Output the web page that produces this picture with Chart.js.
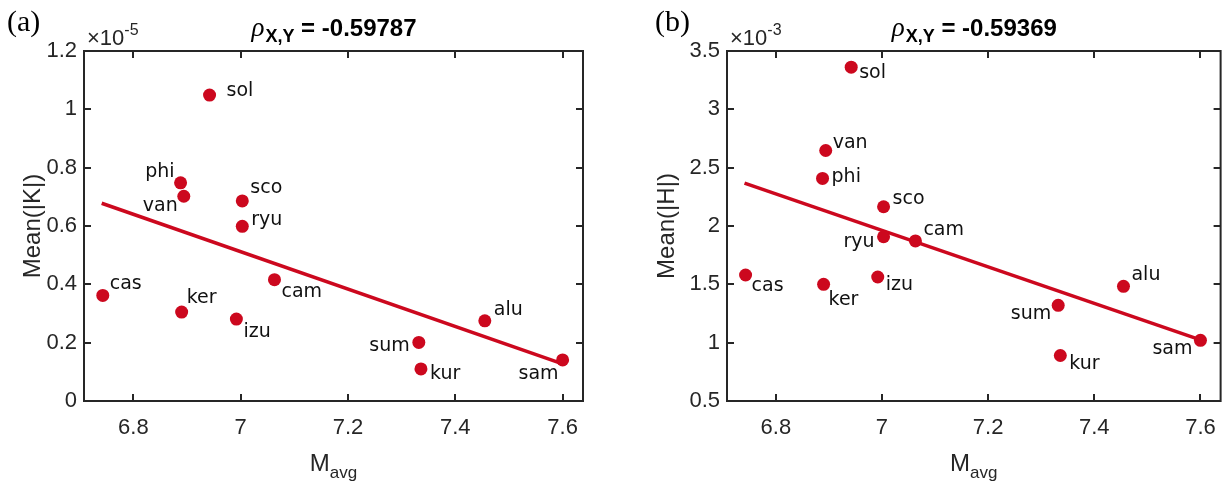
<!DOCTYPE html>
<html>
<head>
<meta charset="utf-8">
<script src="https://cdn.jsdelivr.net/npm/chart.js@4.4.0/dist/chart.umd.min.js"></script>
<style>
  html, body { margin: 0; padding: 0; background: #fff; }
  #wrap { position: relative; width: 1230px; height: 484px; }
  .panel { position: absolute; top: 0; width: 615px; height: 484px; }
</style>
</head>
<body>
<div id="wrap">
  <div class="panel" style="left:0"><canvas id="chartK" width="615" height="484"></canvas></div>
  <div class="panel" style="left:615px"><canvas id="chartH" width="615" height="484"></canvas></div>
</div>
<script>
// station codes, same order in every array below
var stations = ["sol", "phi", "van", "sco", "ryu", "cas", "ker", "izu", "cam", "alu", "sum", "kur", "sam"];
var mAvg = [6.942, 6.888, 6.894, 7.003, 7.003, 6.743, 6.890, 6.992, 7.063, 7.455, 7.332, 7.336, 7.600];
// Mean(|K|), in units of 1e-5
var meanK = [1.049, 0.748, 0.702, 0.686, 0.599, 0.362, 0.305, 0.281, 0.416, 0.275, 0.201, 0.110, 0.141];
// Mean(|H|), in units of 1e-3
var meanH = [3.361, 2.408, 2.647, 2.165, 1.908, 1.580, 1.500, 1.563, 1.872, 1.483, 1.320, 0.890, 1.020];

// least squares lines, end points
var fitX = [6.741, 7.600];
var fitK = [0.678, 0.127];
var fitH = [2.368, 1.024];

var xTicks = [6.8, 7, 7.2, 7.4, 7.6];
var yTicksK = [0, 0.2, 0.4, 0.6, 0.8, 1, 1.2];
var yTicksH = [0.5, 1, 1.5, 2, 2.5, 3, 3.5];

var rhoK = "-0.59787";
var rhoH = "-0.59369";

// where each name sits next to its dot: [dx, dy, align]
var namePosK = [[17, -4, "left"], [-6, -11, "right"], [-6, 10, "right"], [8, -13, "left"], [9, -6, "left"],
  [7, -11, "left"], [5, -14, "left"], [7, 13, "left"], [7, 12, "left"], [9, -11, "left"],
  [-9, 4, "right"], [9, 5, "left"], [-4, 14, "right"]];
var namePosH = [[8, 6, "left"], [9, -1, "left"], [7, -7, "left"], [9, -8, "left"], [-9, 5, "right"],
  [6, 11, "left"], [5, 16, "left"], [8, 8, "left"], [8, -11, "left"], [8, -11, "left"],
  [-7, 9, "right"], [9, 9, "left"], [-8, 9, "right"]];

var red = "rgb(204, 8, 30)";
var axisColor = "#262626";
var sans = "'Liberation Sans', Arial, sans-serif";

Chart.defaults.font.family = sans;
Chart.defaults.animation = false;

function toPoints(xs, ys) {
  return xs.map(function (x, i) { return { x: x, y: ys[i] }; });
}

var decorations = {
  id: "decorations",
  afterDraw: function (chart) {
    var o = chart.options.plugins.decorations;
    var ctx = chart.ctx;
    var a = chart.chartArea;
    var xs = chart.scales.x;
    var ys = chart.scales.y;
    ctx.save();

    // box with inward ticks on all sides
    ctx.strokeStyle = axisColor;
    ctx.lineWidth = 2;
    ctx.strokeRect(a.left, a.top, a.right - a.left, a.bottom - a.top);
    ctx.beginPath();
    xTicks.forEach(function (v) {
      var px = Math.round(xs.getPixelForValue(v));
      ctx.moveTo(px, a.bottom); ctx.lineTo(px, a.bottom - 7);
      ctx.moveTo(px, a.top); ctx.lineTo(px, a.top + 7);
    });
    o.yTicks.forEach(function (v) {
      var py = Math.round(ys.getPixelForValue(v));
      ctx.moveTo(a.left, py); ctx.lineTo(a.left + 7, py);
      ctx.moveTo(a.right, py); ctx.lineTo(a.right - 7, py);
    });
    ctx.stroke();

    // station names
    var meta = chart.getDatasetMeta(0);
    ctx.fillStyle = "#111";
    ctx.font = "19px 'DejaVu Sans', sans-serif";
    ctx.textBaseline = "middle";
    meta.data.forEach(function (pt, i) {
      var p = o.namePos[i];
      ctx.textAlign = p[2];
      ctx.fillText(stations[i], pt.x + p[0], pt.y + p[1]);
    });

    // exponent above the y axis
    ctx.fillStyle = axisColor;
    ctx.textAlign = "left";
    ctx.textBaseline = "alphabetic";
    ctx.font = "22px " + sans;
    ctx.fillText("\u00d710", a.left + 3, 45);
    var w10 = ctx.measureText("\u00d710").width;
    ctx.font = "16px " + sans;
    ctx.fillText(o.expo, a.left + 3 + w10, 35);

    // title: rho_{X,Y} = value
    var cx = (a.left + a.right) / 2;
    var fRho = "italic 27px 'Liberation Serif', serif";
    var fSub = "bold 18px " + sans;
    var fMain = "bold 24px " + sans;
    var rest = " = " + o.rho;
    ctx.font = fRho; var wRho = ctx.measureText("\u03c1").width;
    ctx.font = fSub; var wSub = ctx.measureText("X,Y").width;
    ctx.font = fMain; var wRest = ctx.measureText(rest).width;
    var tx = cx - (wRho + wSub + wRest) / 2;
    ctx.fillStyle = "#000";
    ctx.font = fRho; ctx.fillText("\u03c1", tx, 36);
    ctx.font = fSub; ctx.fillText("X,Y", tx + wRho + 1, 42);
    ctx.font = fMain; ctx.fillText(rest, tx + wRho + wSub + 1, 36);

    // panel letter
    ctx.font = "30px 'Liberation Serif', serif";
    ctx.fillText(o.letter, o.letterX, 31);

    // x label M_avg
    ctx.fillStyle = axisColor;
    ctx.font = "24px " + sans;
    var wM = ctx.measureText("M").width;
    ctx.font = "17px " + sans;
    var wAvg = ctx.measureText("avg").width;
    var lx = cx - (wM + wAvg) / 2;
    ctx.font = "24px " + sans;
    ctx.fillText("M", lx, 471);
    ctx.font = "17px " + sans;
    ctx.fillText("avg", lx + wM, 478);

    // y label
    ctx.translate(o.yLabelX, (a.top + a.bottom) / 2);
    ctx.rotate(-Math.PI / 2);
    ctx.textAlign = "center";
    ctx.textBaseline = "middle";
    ctx.font = "24px " + sans;
    ctx.fillText(o.yLabel, 0, 0);
    ctx.restore();
  }
};

function makePanel(id, yVals, fitY, yTicks, yMin, yMax, opts) {
  var ctx = document.getElementById(id).getContext("2d");
  return new Chart(ctx, {
    type: "scatter",
    data: {
      datasets: [
        {
          data: toPoints(mAvg, yVals),
          backgroundColor: red,
          borderWidth: 0,
          pointRadius: 6.5,
        },
        {
          type: "line",
          data: toPoints(fitX, fitY),
          borderColor: red,
          borderWidth: 3.5,
          pointRadius: 0,
          fill: false,
        },
      ],
    },
    options: {
      responsive: false,
      events: [],
      layout: { padding: { left: 0, top: 51, right: opts.padRight, bottom: 0 } },
      plugins: {
        legend: { display: false },
        tooltip: { enabled: false },
        decorations: opts,
      },
      scales: {
        x: {
          type: "linear",
          min: 6.708,
          max: 7.638,
          grid: { display: false, drawTicks: false },
          border: { display: false },
          afterBuildTicks: function (s) { s.ticks = xTicks.map(function (v) { return { value: v }; }); },
          afterFit: function (s) { s.height = 83; },
          ticks: {
            color: axisColor,
            font: { size: 22 },
            padding: 14,
            maxRotation: 0,
            autoSkip: false,
            callback: function (v) { return String(+v.toFixed(1)); },
          },
        },
        y: {
          min: yMin,
          max: yMax,
          grid: { display: false, drawTicks: false },
          border: { display: false },
          afterBuildTicks: function (s) { s.ticks = yTicks.map(function (v) { return { value: v }; }); },
          afterFit: function (s) { s.width = opts.axisLeft; },
          ticks: {
            color: axisColor,
            font: { size: 22 },
            padding: 7,
            autoSkip: false,
            callback: function (v) { return String(+v.toFixed(1)); },
          },
        },
      },
    },
    plugins: [decorations],
  });
}

makePanel("chartK", meanK, fitK, yTicksK, 0, 1.2, {
  namePos: namePosK, yTicks: yTicksK, expo: "-5", rho: rhoK, letter: "(a)", letterX: 7,
  yLabel: "Mean(|K|)", yLabelX: 33, axisLeft: 84, padRight: 32,
});
makePanel("chartH", meanH, fitH, yTicksH, 0.5, 3.5, {
  namePos: namePosH, yTicks: yTicksH, expo: "-3", rho: rhoH, letter: "(b)", letterX: 40,
  yLabel: "Mean(|H|)", yLabelX: 52, axisLeft: 112, padRight: 4,
});
</script>
</body>
</html>
